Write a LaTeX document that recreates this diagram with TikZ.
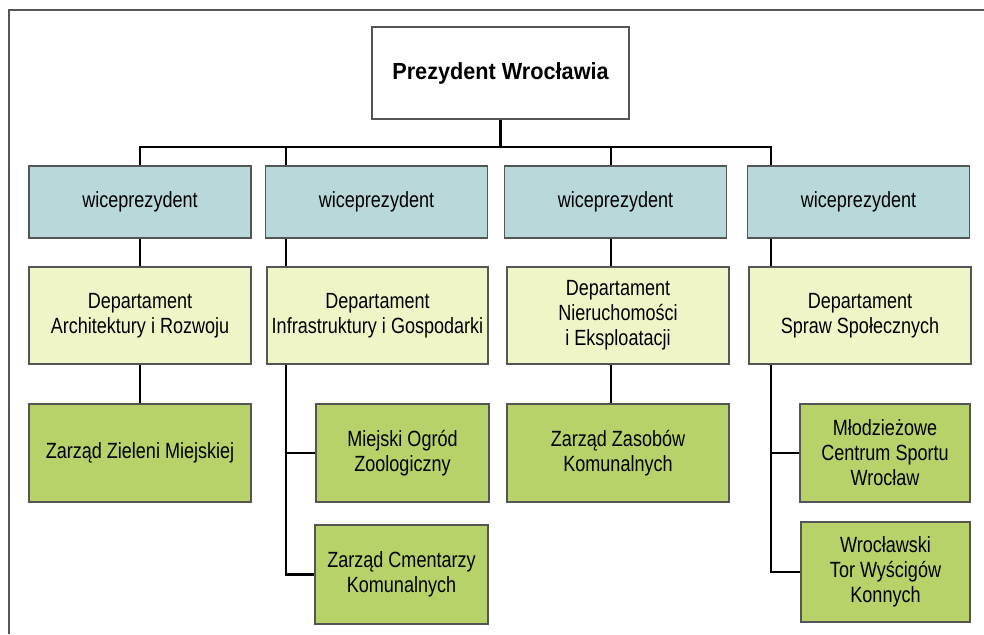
\documentclass[tikz,border=0pt]{standalone}
\usepackage{fontspec}
\setmainfont{Liberation Sans}[FakeStretch=0.82]
\newfontfamily\titlefont{Liberation Sans}[FakeStretch=0.93]
\definecolor{vpblue}{RGB}{184,216,217}
\definecolor{depyellow}{RGB}{240,245,200}
\definecolor{unitgreen}{RGB}{182,210,104}
\definecolor{framegray}{RGB}{85,85,85}
\tikzset{
    box/.style={rectangle, draw=framegray, line width=1.2pt, inner sep=0pt,
        align=center, font=\fontsize{22}{25}\selectfont},
    vpbox/.style={box, fill=vpblue, minimum width=222pt, minimum height=72pt},
    depbox/.style={box, fill=depyellow, minimum width=222pt, minimum height=97pt},
    unitbox/.style={box, fill=unitgreen, minimum height=98pt},
    link/.style={draw=black, line width=2.4pt}
}
\begin{document}
\begin{tikzpicture}[x=1pt, y=-1pt]
        \useasboundingbox (0,0) rectangle (984,634);
        \draw[framegray, line width=1.5pt] (9,634) |- (984,10);

        % top
        \node[box, fill=white, minimum width=257pt, minimum height=92pt,
            font=\titlefont\bfseries\fontsize{23.3}{27}\selectfont] (pres) at (500.5,73) {Prezydent Wrocławia};

        % vice presidents
        \foreach \i/\x in {1/140,2/376.5,3/615.5,4/858.5}
            {
                \node[vpbox] (vp\i) at (\x,202) {wiceprezydent};
            }

        % departments
        \node[depbox] (dep1) at (140,315.5) {Departament\\Architektury i Rozwoju};
        \node[depbox, minimum width=221pt] (dep2) at (377.5,315.5) {Departament\\Infrastruktury i Gospodarki};
        \node[depbox] (dep3) at (618,315.5) {Departament\\Nieruchomości\\i Eksploatacji};
        \node[depbox] (dep4) at (860,315.5) {Departament\\Spraw Społecznych};

        % units
        \node[unitbox, minimum width=222pt] (zzm) at (140,453) {Zarząd Zieleni Miejskiej};
        \node[unitbox, minimum width=173pt] (mog) at (402.5,453) {Miejski Ogród\\Zoologiczny};
        \node[unitbox, minimum width=173pt, minimum height=99pt] (zck) at (401.5,574.5) {Zarząd Cmentarzy\\Komunalnych};
        \node[unitbox, minimum width=222pt] (zzk) at (618,453) {Zarząd Zasobów\\Komunalnych};
        \node[unitbox, minimum width=170pt] (mcs) at (885,453) {Młodzieżowe\\Centrum Sportu\\Wrocław};
        \node[unitbox, minimum width=169pt, minimum height=100pt] (wtw) at (885.5,572) {Wrocławski\\Tor Wyścigów\\Konnych};

        % trunk positions
        \coordinate (bus) at (500,147);
        \coordinate (t1) at (140,0);
        \coordinate (t2) at (286,0);
        \coordinate (t3) at (611,0);
        \coordinate (t4) at (771,0);

        \draw[link] (pres.south) -- (pres.south |- bus);
        \draw[link] (t1 |- vp1.north) -- (t1 |- bus) -- (t4 |- bus) -- (t4 |- vp4.north);
        \draw[link] (t2 |- bus) -- (t2 |- vp2.north);
        \draw[link] (t3 |- bus) -- (t3 |- vp3.north);

        \foreach \i in {1,...,4}
            {
                \draw[link] (t\i |- vp\i.south) -- (t\i |- dep\i.north);
            }

        \draw[link] (t1 |- dep1.south) -- (t1 |- zzm.north);
        \draw[link] (t3 |- dep3.south) -- (t3 |- zzk.north);
        \draw[link] (t2 |- dep2.south) |- (zck.west);
        \draw[link] (t2 |- mog.west) -- (mog.west);
        \draw[link] (t4 |- dep4.south) |- (wtw.west);
        \draw[link] (t4 |- mcs.west) -- (mcs.west);
    \end{tikzpicture}
\end{document}
